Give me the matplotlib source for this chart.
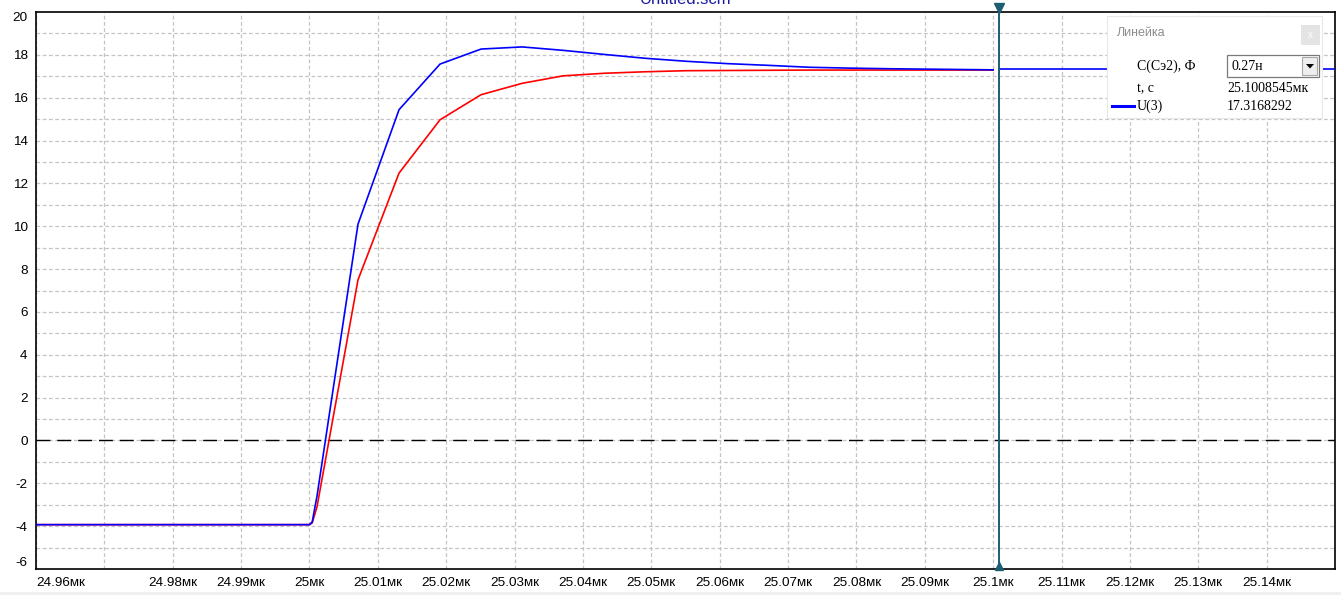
import matplotlib
matplotlib.use('Agg')
from matplotlib import pyplot as plt
from matplotlib.patches import Rectangle, Polygon
from matplotlib.lines import Line2D
import matplotlib.transforms as mtransforms

# Simulation output: time (мкс) and two voltage curves
t = [24.96, 25.0, 25.0004, 25.0011, 25.0071, 25.0131, 25.0191, 25.0251, 25.0311,
     25.0371, 25.0431, 25.0491, 25.0551, 25.0611, 25.0671, 25.0731, 25.0791,
     25.0851, 25.0911, 25.0971, 25.1]
u_blue = [-3.93, -3.93, -3.8, -2.6, 10.1, 15.44, 17.57, 18.27, 18.37,
          18.21, 18.02, 17.84, 17.70, 17.59, 17.51, 17.42, 17.38,
          17.35, 17.33, 17.31, 17.30]
u_red = [-3.93, -3.93, -3.85, -3.1, 7.5, 12.48, 14.97, 16.14, 16.67,
         17.02, 17.14, 17.21, 17.26, 17.27, 17.28, 17.29, 17.29,
         17.29, 17.29, 17.29, 17.29]

x_ticks = [24.96, 24.97, 24.98, 24.99, 25.0, 25.01, 25.02, 25.03, 25.04, 25.05,
           25.06, 25.07, 25.08, 25.09, 25.1, 25.11, 25.12, 25.13, 25.14]
x_labels = ['24.96мк', '', '24.98мк', '24.99мк', '25мк', '25.01мк', '25.02мк',
            '25.03мк', '25.04мк', '25.05мк', '25.06мк', '25.07мк', '25.08мк',
            '25.09мк', '25.1мк', '25.11мк', '25.12мк', '25.13мк', '25.14мк']
y_ticks = [-6, -4, -2, 0, 2, 4, 6, 8, 10, 12, 14, 16, 18, 20]

cursor_t = 25.1008545
cursor_u = 17.3168292
cap_value = '0.27н'

W, H = 1341, 595
plt.rcParams['font.family'] = ['Liberation Sans', 'DejaVu Sans']


def fx(x):
    return x / W


def fy(y):
    return 1 - y / H


fig = plt.figure(figsize=(W / 100, H / 100), dpi=100)
fig.patch.set_facecolor('white')
ax = fig.add_axes([fx(36), fy(569), (1335 - 36) / W, (569 - 12) / H])

ax.set_xlim(24.96, 25.15)
ax.set_ylim(-6, 20)

# grid: vertical every 0.01, horizontal every 1
grid_kw = dict(color='#c4c4c4', lw=0.9, ls=(0, (3, 2)), zorder=0)
for xt in x_ticks:
    ax.axvline(xt, **grid_kw)
for yv in range(-5, 20):
    ax.axhline(yv, **grid_kw)

ax.axhline(0, color='black', lw=1, ls=(0, (10, 5)), zorder=1)

ax.plot(t, u_red, color='#ff0000', lw=1.2, zorder=2)
ax.plot(t, u_blue, color='#0000ff', lw=1.2, zorder=3)

# cursor
cur_col = '#1d5d72'
ax.axvline(cursor_t, color=cur_col, lw=1.4, zorder=4)
ax.plot([cursor_t, 25.15], [cursor_u, cursor_u], color='#0000ff', lw=1.2, zorder=3)
off_up = mtransforms.offset_copy(ax.transData, fig=fig, x=0, y=3, units='points')
off_dn = mtransforms.offset_copy(ax.transData, fig=fig, x=0, y=2.5, units='points')
ax.plot([cursor_t], [20], marker='v', ms=7, color=cur_col, transform=off_up, clip_on=False, zorder=6)
ax.plot([cursor_t], [-6], marker='^', ms=6, color=cur_col, transform=off_dn, clip_on=False, zorder=6)

ax.set_xticks(x_ticks)
ax.set_xticklabels(x_labels)
ax.set_yticks(y_ticks)
ax.set_yticklabels([str(v) for v in y_ticks])
ax.tick_params(length=0, labelsize=9.7, colors='black')
ax.tick_params(axis='x', pad=6)
ax.tick_params(axis='y', pad=6)
xl = ax.get_xticklabels()
xl[0].set_ha('left')
yl = ax.get_yticklabels()
yl[0].set_va('bottom')
yl[-1].set_va('top')
for s in ax.spines.values():
    s.set_color('black')
    s.set_linewidth(1.2)

# title, cut by the top of the picture as in the original window
fig.text(fx(686), fy(4), 'Untitled.scm', ha='center', va='baseline',
         color='#1c1ca0', fontsize=12)

# gray strip at the very bottom
fig.add_artist(Rectangle((0, 0), 1, 3 / H, transform=fig.transFigure,
                         fc='#f0f0f0', ec='none', zorder=0))

# ruler panel ("Линейка")
fig.add_artist(Rectangle((fx(1107), fy(118)), (1322 - 1107) / W, (118 - 16) / H,
                         transform=fig.transFigure, fc='white', ec='#e8e8e8',
                         lw=0.8, zorder=10))
fig.text(fx(1117), fy(33), 'Линейка', ha='left', va='center', color='#8c8c8c',
         fontsize=9, zorder=11)
fig.add_artist(Rectangle((fx(1301), fy(45)), 19 / W, 20 / H, transform=fig.transFigure,
                         fc='#e4e4e4', ec='none', zorder=11))
fig.text(fx(1310.5), fy(35), 'x', ha='center', va='center', color='white',
         fontsize=7, zorder=12)

serif = dict(family='Liberation Serif', fontsize=10, color='black', zorder=11)
fig.text(fx(1137), fy(66), 'C(Сэ2), Ф', ha='left', va='center', **serif)
fig.add_artist(Rectangle((fx(1227), fy(77)), (1319 - 1227) / W, 22 / H,
                         transform=fig.transFigure, fc='white', ec='#7a7a7a',
                         lw=0.9, zorder=11))
fig.add_artist(Rectangle((fx(1302), fy(75)), 15 / W, 18 / H, transform=fig.transFigure,
                         fc='#eeeeee', ec='#a8a8a8', lw=0.8, zorder=12))
fig.add_artist(Polygon([(fx(1306), fy(64)), (fx(1314), fy(64)), (fx(1310), fy(68.5))],
                       closed=True, transform=fig.transFigure, fc='black', ec='none',
                       zorder=13))
fig.text(fx(1231), fy(66), cap_value, ha='left', va='center', **serif)

fig.text(fx(1137), fy(89), 't, c', ha='left', va='center', **serif)
fig.text(fx(1227), fy(89), f'{cursor_t:.7f}мк', ha='left', va='center', **serif)
fig.add_artist(Line2D([fx(1112), fx(1134)], [fy(106), fy(106)], transform=fig.transFigure,
                      color='#0000ff', lw=2.2, zorder=11))
fig.text(fx(1137), fy(106), 'U(3)', ha='left', va='center', **serif)
fig.text(fx(1227), fy(106), f'{cursor_u:.7f}', ha='left', va='center', **serif)

fig.savefig('out.png', dpi=100)
